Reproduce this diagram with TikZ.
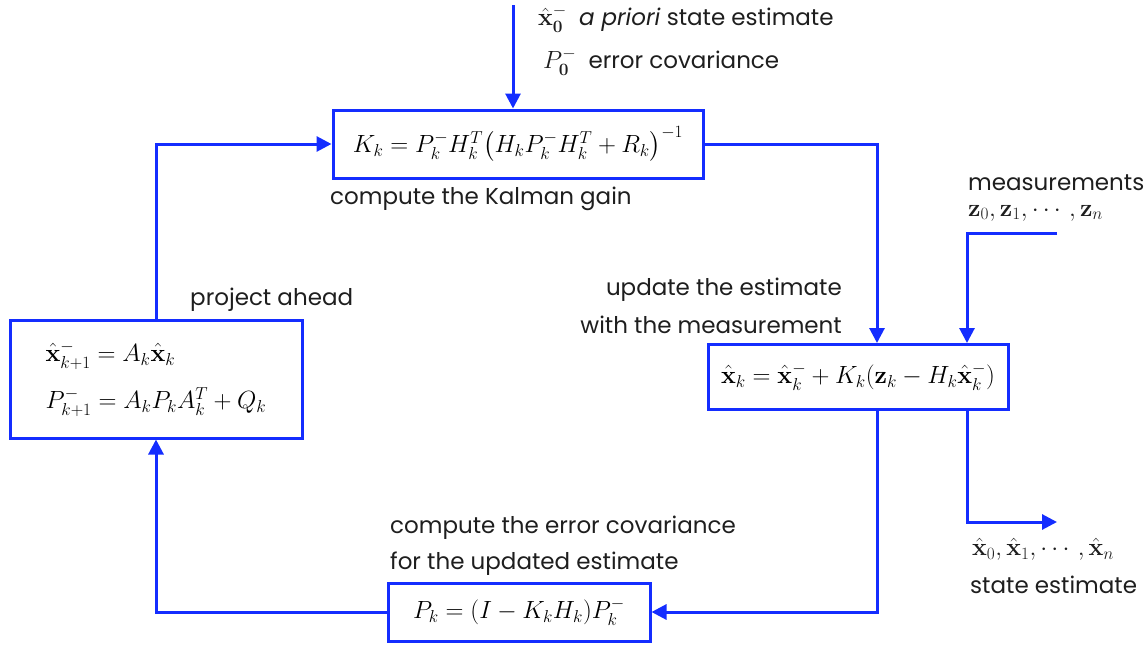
\documentclass[tikz,border=0pt]{standalone}
\usepackage{amsmath}
\usepackage[no-math]{fontspec}
\setmainfont{Poppins}
\usetikzlibrary{arrows.meta}
\DeclareMathSizes{25}{25}{18.5}{14}
\DeclareMathSizes{23}{23}{17}{13}
\definecolor{kblue}{RGB}{20,45,255}
\definecolor{ktext}{RGB}{30,30,30}
\tikzset{
  box/.style={draw=kblue, line width=3pt, inner sep=0pt, text=black, font=\fontsize{25}{30}\selectfont},
  arr/.style={draw=kblue, line width=3pt, -{Triangle[length=15pt,width=15pt]}},
  lbl/.style={text=ktext, inner sep=0pt, font=\fontsize{23}{27}\selectfont},
}
\begin{document}
\begin{tikzpicture}[x=1pt,y=-1pt]
\useasboundingbox (0,0) rectangle (1146,648);
% boxes
\node[box, minimum width=370pt, minimum height=68pt] (kal) at (518,144)
  {$K_k = P_k^- H_k^T\bigl(H_k P_k^- H_k^T + R_k\bigr)^{-1}$};
\node[box, minimum width=292pt, minimum height=118pt, align=left] (proj) at (156,379)
  {$\hat{\mathbf{x}}_{k+1}^- = A_k\hat{\mathbf{x}}_k$\\[17pt]$P_{k+1}^- = A_k P_k A_k^T + Q_k$};
\node[box, minimum width=300pt, minimum height=65pt] (upd) at (858,377)
  {$\hat{\mathbf{x}}_k = \hat{\mathbf{x}}_k^- + K_k(\mathbf{z}_k - H_k\hat{\mathbf{x}}_k^-)$};
\node[box, minimum width=262pt, minimum height=58pt] (pk) at (519,612)
  {$P_k = (I - K_k H_k)P_k^-$};
% labels
\node[lbl, anchor=west] (l1) at (538,19) {$\hat{\mathbf{x}}_{\mathbf{0}}^-$\ \ \textit{a priori} state estimate};
\node[lbl, anchor=west] (l2) at (543,62) {$P_{\mathbf{0}}^-$\ \ error covariance};
\node[lbl, anchor=west] (l3) at (330,199) {compute the Kalman gain};
\node[lbl, anchor=west] (l4) at (190,300) {project ahead};
\node[lbl, anchor=east] (l5) at (842,290) {update the estimate};
\node[lbl, anchor=east] (l6) at (842,325) {with the measurement};
\node[lbl, anchor=west] (l7) at (968,183) {measurements};
\node[lbl, anchor=west] (l8) at (968,213) {$\mathbf{z}_0, \mathbf{z}_1, \cdots, \mathbf{z}_n$};
\node[lbl, anchor=west] (l9) at (390,528) {compute the error covariance};
\node[lbl, anchor=west] (l10) at (390,564) {for the updated estimate};
\node[lbl, anchor=west] (l11) at (972,549) {$\hat{\mathbf{x}}_0, \hat{\mathbf{x}}_1, \cdots, \hat{\mathbf{x}}_n$};
\node[lbl, anchor=west] (l12) at (970,585) {state estimate};
% connectors
\coordinate (init) at (513,5);
\coordinate (meas) at (1057,233);
\coordinate (out) at (1057,522);
\draw[arr] (init) -- (init |- kal.north);
\draw[arr] (proj.north) |- (kal.west);
\draw[arr] (kal.east) -| ([xshift=19pt]upd.north);
\draw[arr] (meas) -| ([xshift=109pt]upd.north);
\draw[arr] ([xshift=109pt]upd.south) |- (out);
\draw[arr] ([xshift=19pt]upd.south) |- (pk.east);
\draw[arr] (pk.west) -| (proj.south);
\end{tikzpicture}
\end{document}
